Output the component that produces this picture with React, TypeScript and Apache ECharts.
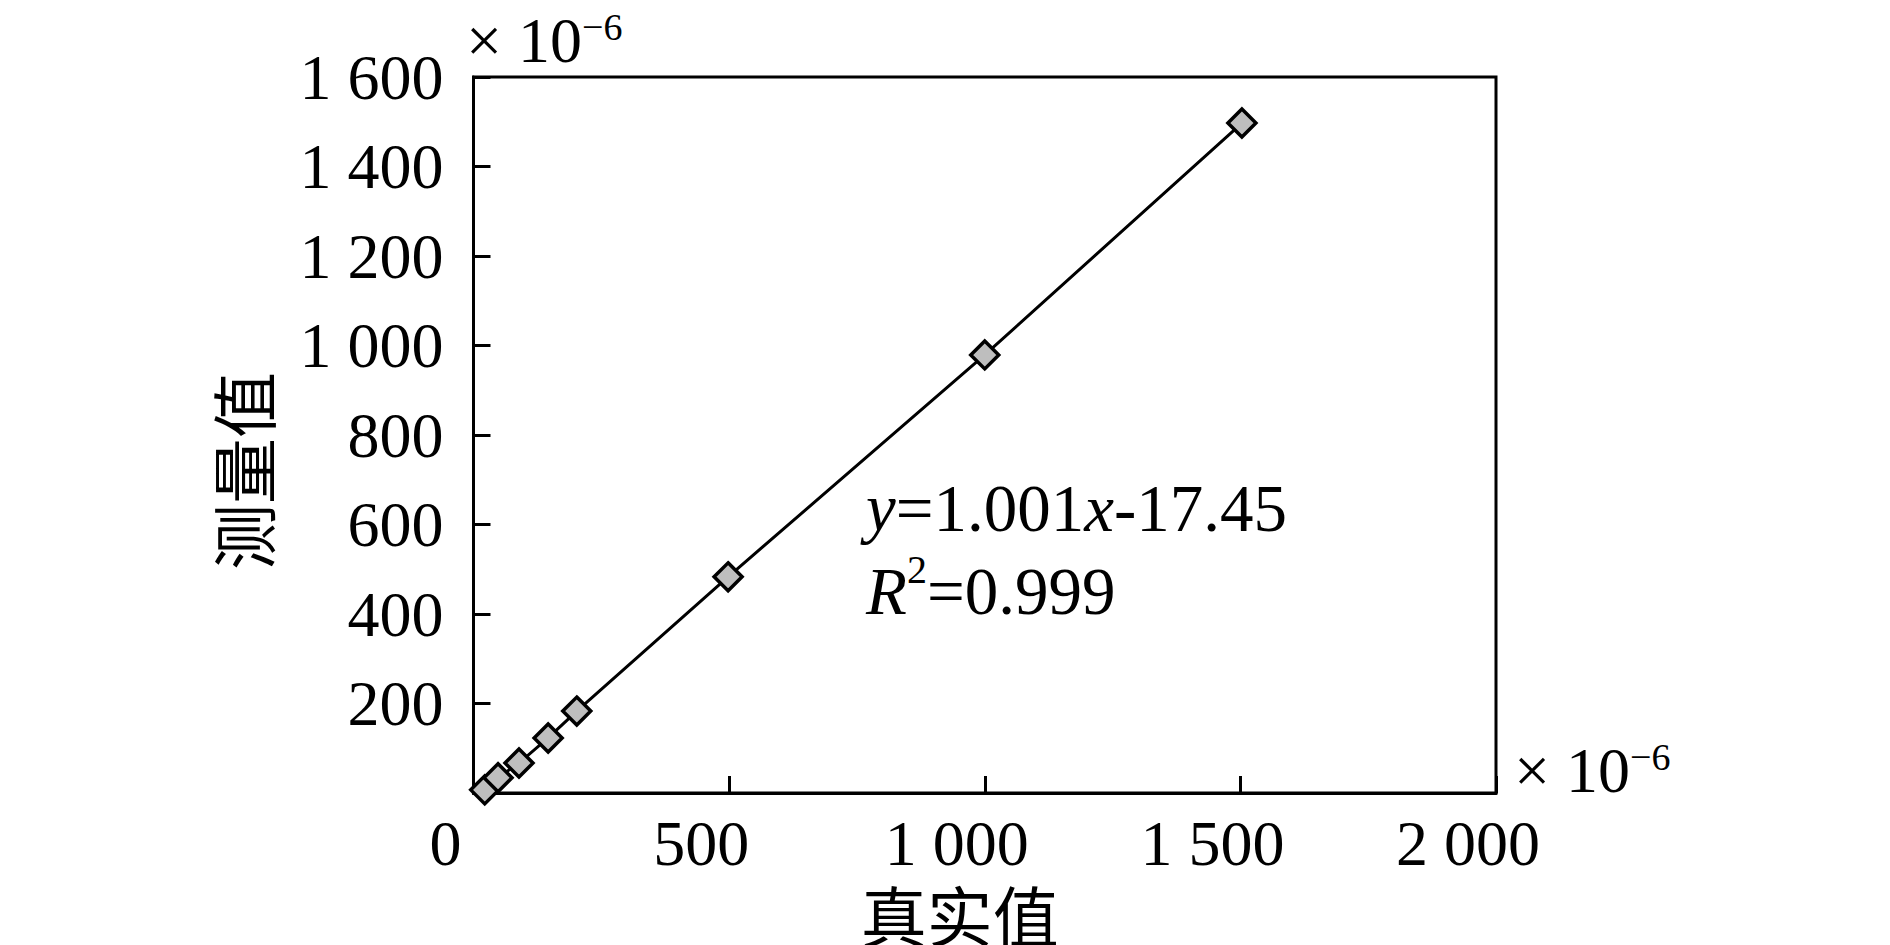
import React, { useEffect, useRef } from "react";
import * as echarts from "echarts";

// Data (units: ×10^-6)
const trueValues = [22, 48, 89, 146, 202, 498, 1000, 1503];
const measuredValues = [7, 34, 67, 123, 183, 483, 979, 1497];

const xAxisName = "真实值";
const yAxisName = "测量值";
const unitText = "× 10";
const unitExp = "−6";
const eqSlope = "1.001";
const eqIntercept = "-17.45";
const r2Value = "0.999";

const SERIF = '"Liberation Serif", "Times New Roman", serif';
const CJK = '"Noto Sans CJK SC", sans-serif';

const fmt = (v: number): string => {
  const s = String(Math.round(v));
  return s.length > 3 ? s.slice(0, s.length - 3) + " " + s.slice(-3) : s;
};

export default function App() {
  const ref = useRef<HTMLDivElement>(null);

  useEffect(() => {
    document.body.style.margin = "0";
    if (!ref.current) return;
    const chart = echarts.init(ref.current, undefined, { renderer: "svg" });

    const unitRich = {
      a: { fontSize: 64, fontFamily: SERIF, lineHeight: 64, fill: "#000" },
      b: { fontSize: 38, fontFamily: SERIF, lineHeight: 38, verticalAlign: "top", fill: "#000" },
    };

    const option: any = {
      animation: false,
      backgroundColor: "#fff",
      grid: {
        left: 473.5,
        right: 394,
        top: 77,
        bottom: 152,
        show: true,
        borderColor: "#000",
        borderWidth: 3,
        containLabel: false,
        outerBoundsMode: "none",
      },
      xAxis: {
        type: "value",
        min: 0,
        max: 2000,
        interval: 500,
        name: xAxisName,
        nameLocation: "middle",
        nameGap: 88,
        nameTextStyle: {
          fontFamily: CJK,
          fontSize: 66,
          lineHeight: 62,
          color: "#000",
          padding: [0, 50, 0, 0],
        },
        axisLine: { lineStyle: { color: "#000", width: 3 } },
        axisTick: { inside: true, length: 17, lineStyle: { color: "#000", width: 3 } },
        axisLabel: {
          margin: 23,
          fontFamily: SERIF,
          fontSize: 64,
          lineHeight: 54,
          color: "#000",
          padding: [0, 56, 0, 0],
          formatter: (v: number) => fmt(v),
        },
        splitLine: { show: false },
      },
      yAxis: {
        type: "value",
        min: 0,
        max: 1600,
        interval: 200,
        name: yAxisName,
        nameLocation: "middle",
        nameGap: 200,
        nameRotate: 90,
        nameTextStyle: {
          fontFamily: CJK,
          fontSize: 66,
          color: "#000",
          padding: [0, 72, 0, 0],
        },
        axisLine: { lineStyle: { color: "#000", width: 3 } },
        axisTick: { inside: true, length: 17, lineStyle: { color: "#000", width: 3 } },
        axisLabel: {
          margin: 30,
          fontFamily: SERIF,
          fontSize: 64,
          color: "#000",
          formatter: (v: number) => (v === 0 ? "" : fmt(v)),
        },
        splitLine: { show: false },
      },
      series: [
        {
          type: "line",
          data: trueValues.map((x, i) => [x, measuredValues[i]]),
          symbol: "diamond",
          symbolSize: 28,
          showAllSymbol: true,
          itemStyle: { color: "#bebebe", borderColor: "#000", borderWidth: 3.5 },
          lineStyle: { color: "#000", width: 3 },
        },
      ],
      graphic: [
        {
          type: "text",
          x: 466,
          y: 40,
          style: {
            text: `{a|${unitText}}{b|${unitExp}}`,
            rich: unitRich,
            verticalAlign: "middle",
            fill: "#000",
          },
        },
        {
          type: "text",
          x: 1514,
          y: 770,
          style: {
            text: `{a|${unitText}}{b|${unitExp}}`,
            rich: unitRich,
            verticalAlign: "middle",
            fill: "#000",
          },
        },
        {
          type: "text",
          x: 866,
          y: 466,
          style: {
            text:
              `{i|y}{n|=${eqSlope}}{i|x}{n|${eqIntercept}}\n` +
              `{i|R}{s|2}{n|=${r2Value}}`,
            rich: {
              i: { fontSize: 67, fontFamily: SERIF, fontStyle: "italic", lineHeight: 83, fill: "#000" },
              n: { fontSize: 67, fontFamily: SERIF, lineHeight: 83, fill: "#000" },
              s: { fontSize: 40, fontFamily: SERIF, lineHeight: 52, verticalAlign: "top", fill: "#000" },
            },
            verticalAlign: "top",
            fill: "#000",
          },
        },
      ],
    };

    chart.setOption(option);
    return () => chart.dispose();
  }, []);

  return <div ref={ref} style={{ width: 1890, height: 945 }} />;
}
